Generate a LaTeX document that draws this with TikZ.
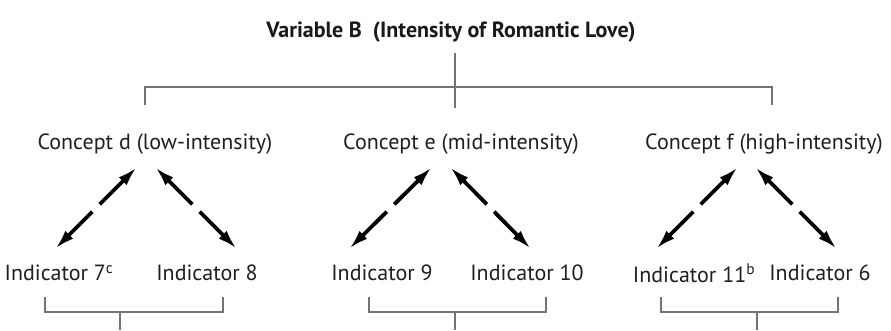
\documentclass[tikz,border=0pt]{standalone}
\usepackage{fontspec}
\setmainfont{PT Sans}
\usetikzlibrary{arrows.meta,calc}
\tikzset{
  lbl/.style={inner sep=0pt, anchor=center, text=black!88, font=\fontsize{22}{24}\selectfont},
  ttl/.style={inner sep=0pt, anchor=center, text=black!90, font=\fontsize{22}{24}\selectfont\bfseries},
  thin/.style={draw=black!55, line width=1.3pt},
  headA/.style={line width=3.8pt, -{Latex[length=20pt,width=11pt]}},
}
\newcommand{\dbl}[2]{%
  \draw[headA] ($(#1)!0.455!(#2)$) -- (#1);
  \draw[headA] ($(#1)!0.545!(#2)$) -- (#2);}
\begin{document}
\begin{tikzpicture}[x=1pt,y=-1pt]
\useasboundingbox[fill=white] (0,0) rectangle (891,330);
% title
\node[ttl] (title) at (451,32) {Variable B\ \ (Intensity of Romantic Love)};
% concepts
\node[lbl] (cd) at (155,144) {Concept d (low-intensity)};
\node[lbl] (ce) at (461,144) {Concept e (mid-intensity)};
\node[lbl] (cf) at (764,144) {Concept f (high-intensity)};
% indicators
\node[lbl] (i7) at (59,273) {Indicator 7\textsuperscript{c}};
\node[lbl] (i8) at (207,273) {Indicator 8};
\node[lbl] (i9) at (382,273) {Indicator 9};
\node[lbl] (i10) at (527,273) {Indicator 10};
\node[lbl] (i11) at (694,273) {Indicator 11\textsuperscript{b}};
\node[lbl] (i6) at (820,273) {Indicator 6};
% top bracket
\coordinate (tt) at (455,53);
\coordinate (tm) at (455,108);
\coordinate (tl) at (145,87);
\coordinate (tr) at (772,87);
\draw[thin] (tt) -- (tm);
\draw[thin] ($(tl)+(0,18)$) -- (tl) -- (tr) -- ($(tr)+(0,18)$);
% arrow end points
\coordinate (d1) at (137,167); \coordinate (d1b) at (55,249);
\coordinate (d2) at (155,167); \coordinate (d2b) at (237,249);
\coordinate (e1) at (432,167); \coordinate (e1b) at (349,249);
\coordinate (e2) at (450,167); \coordinate (e2b) at (531,249);
\coordinate (f1) at (738,167); \coordinate (f1b) at (656,249);
\coordinate (f2) at (755,167); \coordinate (f2b) at (837,249);
\dbl{d1}{d1b}
\dbl{d2}{d2b}
\dbl{e1}{e1b}
\dbl{e2}{e2b}
\dbl{f1}{f1b}
\dbl{f2}{f2b}
% bottom brackets
\foreach \l/\r/\m in {45/223/120, 369/546/455, 661/838/757}{
  \draw[thin] (\l,297) -- (\l,312) -- (\r,312) -- (\r,297);
  \draw[thin] (\m,312) -- (\m,330);
}
\end{tikzpicture}
\end{document}
